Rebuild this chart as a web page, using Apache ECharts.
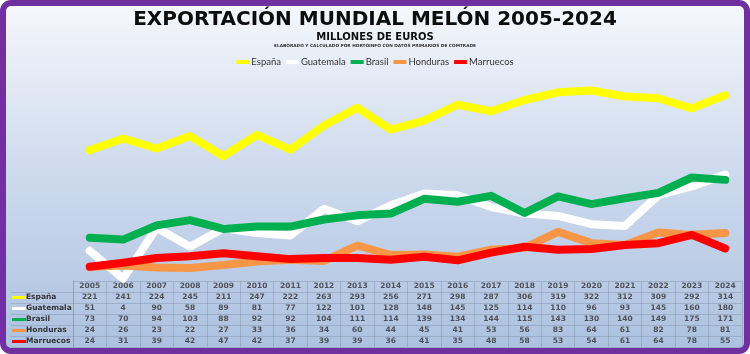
<!DOCTYPE html>
<html>
<head>
<meta charset="utf-8">
<script src="https://cdn.jsdelivr.net/npm/echarts@6/dist/echarts.min.js"></script>
<style>
html,body{margin:0;padding:0;background:#fff}
#main{width:750px;height:354px}
</style>
</head>
<body>
<div id="main"></div>
<script>
// datos (millones de euros)
var years = ['2005','2006','2007','2008','2009','2010','2011','2012','2013','2014','2015','2016','2017','2018','2019','2020','2021','2022','2023','2024'];
var espana    = [221,241,224,245,211,247,222,263,293,256,271,298,287,306,319,322,312,309,292,314];
var guatemala = [51,4,90,58,89,81,77,122,101,128,148,145,125,114,110,96,93,145,160,180];
var brasil    = [73,70,94,103,88,92,92,104,111,114,139,134,144,115,143,130,140,149,175,171];
var honduras  = [24,26,23,22,27,33,36,34,60,44,45,41,53,56,83,64,61,82,78,81];
var marruecos = [24,31,39,42,47,42,37,39,39,36,41,35,48,58,53,54,61,64,78,55];

var names = ['España','Guatemala','Brasil','Honduras','Marruecos'];
var rows = [espana, guatemala, brasil, honduras, marruecos];
var colors = ['#ffff00','#ffffff','#00b050','#f79646','#ff0000'];

var myChart = echarts.init(document.getElementById('main'));

// celdas de la tabla: fila 0 = años, filas 1..5 = países
var cells = [];
years.forEach(function (y, i) { cells.push([i, 0, y]); });
rows.forEach(function (r, k) {
    r.forEach(function (v, i) { cells.push([i, k + 1, v]); });
});

var rich = { n: { fontSize: 7.5, fontWeight: 'bold', color: '#333', fontFamily: 'DejaVu Sans' } };
colors.forEach(function (c, i) {
    rich['k' + i] = { width: 14, height: 3, backgroundColor: c, verticalAlign: 'middle' };
});

var lineSeries = rows.map(function (r, i) {
    return {
        name: names[i],
        type: 'line',
        xAxisIndex: 0,
        yAxisIndex: 0,
        data: r,
        symbol: 'none',
        lineStyle: { width: 8, color: colors[i], cap: 'round', join: 'round' },
        itemStyle: { color: colors[i] }
    };
});

var gridColor = 'rgba(120,130,150,0.35)';

myChart.setOption({
    animation: false,
    backgroundColor: 'transparent',
    graphic: [{
        type: 'rect',
        z: -100,
        silent: true,
        shape: { x: 3, y: 3, width: 744, height: 348, r: 8 },
        style: {
            fill: {
                type: 'linear', x: 0, y: 0, x2: 0, y2: 1,
                colorStops: [
                    { offset: 0, color: '#f6f8fc' },
                    { offset: 0.45, color: '#d0dcee' },
                    { offset: 1, color: '#abc1e0' }
                ]
            },
            stroke: '#7030a0',
            lineWidth: 6
        }
    }],
    title: [{
        text: 'EXPORTACIÓN MUNDIAL MELÓN 2005-2024',
        left: 'center', top: 10, padding: 0,
        textStyle: { fontSize: 20, fontWeight: 'bold', color: '#0d0d0d', fontFamily: 'DejaVu Sans' }
    }, {
        text: 'MILLONES DE EUROS',
        left: 'center', top: 32, padding: 0,
        textStyle: { fontSize: 10, fontWeight: 'bold', color: '#0d0d0d', fontFamily: 'DejaVu Sans' }
    }, {
        text: 'ELABORADO Y CALCULADO POR HORTOINFO CON DATOS PRIMARIOS DE COMTRADE',
        left: 'center', top: 44, padding: 0,
        textStyle: { fontSize: 4.3, fontWeight: 'bold', color: '#333', fontFamily: 'DejaVu Sans' }
    }],
    legend: {
        data: names,
        left: 'center',
        top: 52,
        icon: 'rect',
        itemWidth: 13,
        itemHeight: 4,
        itemGap: 5,
        textStyle: { fontSize: 9.5, color: '#333', fontFamily: 'Lato', padding: [0, 0, 0, -3] }
    },
    grid: [
        { left: 73, right: 8, top: 74, height: 207 },
        { left: 73, right: 8, top: 281, height: 66 }
    ],
    xAxis: [{
        gridIndex: 0, type: 'category', data: years, boundaryGap: true, show: false
    }, {
        gridIndex: 1, type: 'category', data: years, boundaryGap: true,
        axisLabel: { show: false }, axisTick: { show: false }, axisLine: { show: false },
        splitLine: { show: true, interval: 0, lineStyle: { color: gridColor, width: 1 } }
    }],
    yAxis: [{
        gridIndex: 0, type: 'value', min: 0, max: 350, show: false
    }, {
        gridIndex: 1, type: 'category', data: [''].concat(names), inverse: true, boundaryGap: true,
        axisLine: { show: true, lineStyle: { color: gridColor } },
        axisTick: {
            show: true, length: 62,
            interval: function (idx) { return idx !== 0; },
            lineStyle: { color: gridColor }
        },
        splitLine: { show: true, interval: 0, lineStyle: { color: gridColor, width: 1 } },
        axisLabel: {
            margin: 61,
            align: 'left',
            interval: 0,
            formatter: function (v, i) {
                if (!v) return '';
                return '{k' + (i - 1) + '| }{n|' + v + '}';
            },
            rich: rich
        }
    }],
    series: lineSeries.concat([{
        name: 'tabla',
        type: 'scatter',
        xAxisIndex: 1,
        yAxisIndex: 1,
        data: cells,
        symbolSize: 1,
        silent: true,
        itemStyle: { color: 'rgba(0,0,0,0)' },
        label: {
            show: true,
            position: 'inside',
            formatter: function (p) { return p.value[2]; },
            fontSize: 7.5,
            fontWeight: 'bold',
            color: '#333',
            fontFamily: 'DejaVu Sans'
        }
    }])
});
</script>
</body>
</html>
